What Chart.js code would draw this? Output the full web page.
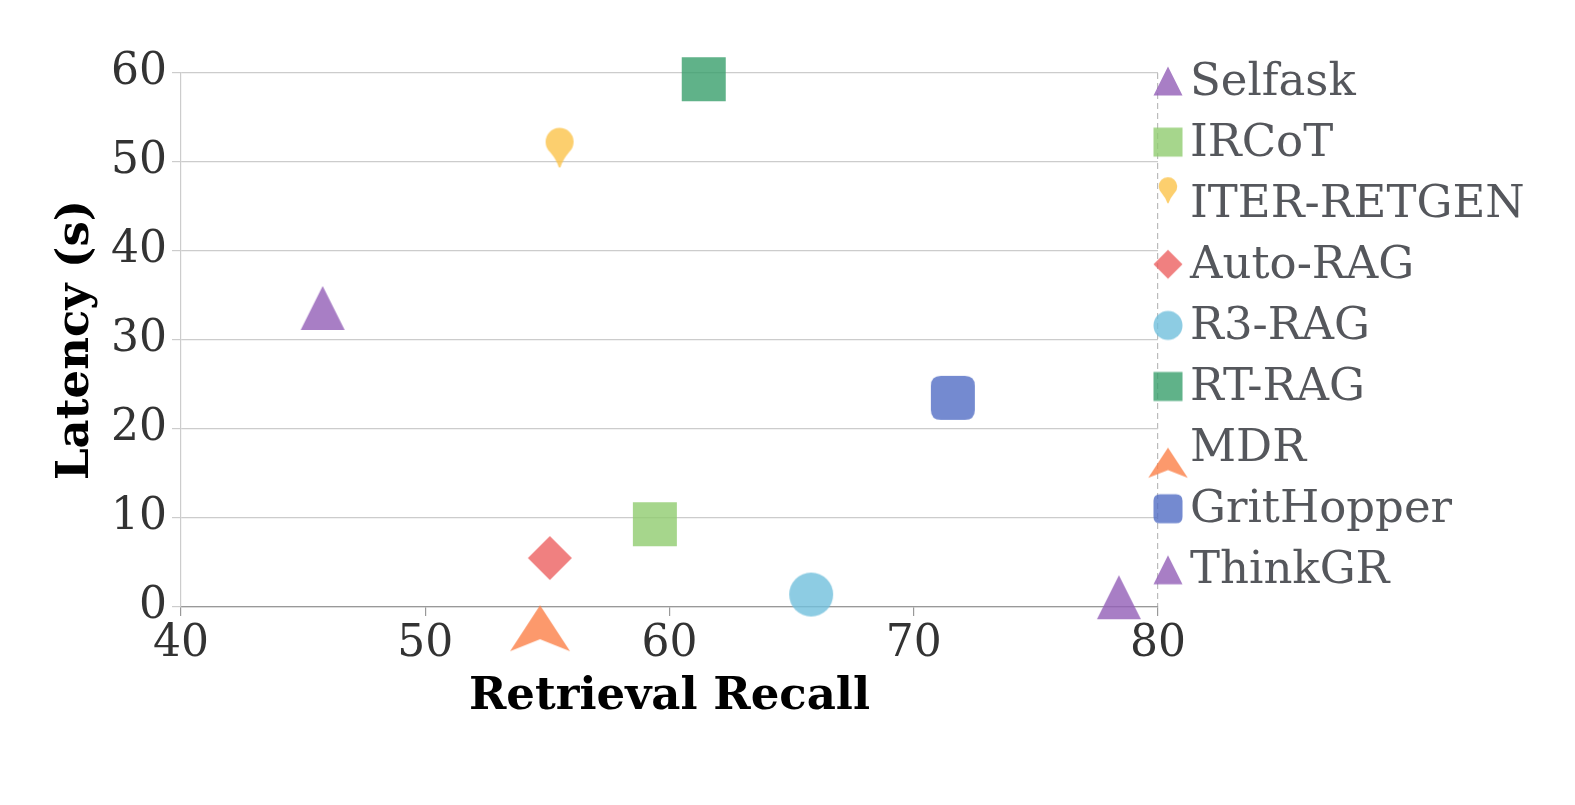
<!DOCTYPE html>
<html><head><meta charset="utf-8">
<script src="https://cdn.jsdelivr.net/npm/chart.js@4.4.1/dist/chart.umd.min.js"></script>
<style>html,body{margin:0;padding:0;background:#fff;}canvas{display:block;}</style>
</head><body>
<canvas id="c" width="1575" height="805"></canvas>
<script>
// ---- data ----
const methods = ['Selfask','IRCoT','ITER-RETGEN','Auto-RAG','R3-RAG','RT-RAG','MDR','GritHopper','ThinkGR'];
const recall  = [45.8, 59.4, 55.5, 55.1, 65.8, 61.4, 54.7, 71.6, 78.4];
const latency = [33.6, 9.3, 49.4, 5.5, 1.4, 59.3, 0.2, 23.5, 1.1];
const xTicks = [40, 50, 60, 70, 80];
const yTicks = [0, 10, 20, 30, 40, 50, 60];

// ---- styles ----
const markerShapes = ['tri','square','pin','diamond','circle','square','arrow','roundsq','tri'];
const markerColors = [
  'rgba(146,94,182,0.8)', 'rgba(144,204,111,0.8)', 'rgba(251,195,74,0.8)',
  'rgba(236,96,96,0.8)', 'rgba(112,191,220,0.8)', 'rgba(56,159,107,0.8)',
  'rgba(251,128,71,0.8)', 'rgba(81,109,196,0.8)', 'rgba(146,94,182,0.8)'
];
const SERIF = "'DejaVu Serif', 'Liberation Serif', serif";

function makeMarker(shape, color, k) {
  const c = document.createElement('canvas');
  let w, h;
  if (shape === 'pin') { w = Math.ceil(32 * k); h = Math.ceil(84 * k); }
  else if (shape === 'arrow') { w = Math.ceil(64 * k); h = Math.ceil(96 * k); }
  else { w = Math.ceil(48 * k); h = Math.ceil(48 * k); }
  if (w % 2) w++; if (h % 2) h++;
  c.width = w; c.height = h;
  const g = c.getContext('2d');
  g.translate(w / 2, h / 2);
  g.scale(k, k);
  g.fillStyle = color;
  g.beginPath();
  const s = 22;
  switch (shape) {
    case 'tri':
      g.moveTo(0, -s); g.lineTo(s, s); g.lineTo(-s, s); g.closePath(); break;
    case 'square':
      g.rect(-s, -s, 2 * s, 2 * s); break;
    case 'roundsq': {
      const r = 10;
      g.moveTo(-s + r, -s); g.lineTo(s - r, -s); g.quadraticCurveTo(s, -s, s, -s + r);
      g.lineTo(s, s - r); g.quadraticCurveTo(s, s, s - r, s);
      g.lineTo(-s + r, s); g.quadraticCurveTo(-s, s, -s, s - r);
      g.lineTo(-s, -s + r); g.quadraticCurveTo(-s, -s, -s + r, -s); g.closePath(); break;
    }
    case 'diamond':
      g.moveTo(0, -s); g.lineTo(s, 0); g.lineTo(0, s); g.lineTo(-s, 0); g.closePath(); break;
    case 'circle':
      g.arc(0, 0, s, 0, Math.PI * 2); break;
    case 'pin': {
      const cy = -25.5, R = 14, a = 0.75;
      g.arc(0, cy, R, Math.PI / 2 + a, Math.PI * 2.5 - a);
      g.quadraticCurveTo(3, cy + R + 4, 0.8, 0);
      g.lineTo(-0.8, 0);
      g.quadraticCurveTo(-3, cy + R + 4, -R * Math.sin(a), cy + R * Math.cos(a));
      g.closePath(); break;
    }
    case 'arrow':
      g.moveTo(0, 0); g.lineTo(30, 46); g.lineTo(0, 34); g.lineTo(-30, 46); g.closePath(); break;
  }
  g.fill();
  return c;
}

const chartMarkers = markerShapes.map((s, i) => makeMarker(s, markerColors[i], 1));
const legendMarkers = markerShapes.map((s, i) => makeMarker(s, markerColors[i], 0.66));

const sideLegend = {
  id: 'sideLegend',
  afterDraw(chart) {
    const ctx = chart.ctx, a = chart.chartArea;
    ctx.save();
    ctx.font = '45px ' + SERIF;
    ctx.fillStyle = '#55575c';
    ctx.textBaseline = 'middle';
    ctx.textAlign = 'left';
    methods.forEach((name, i) => {
      const y = a.top + 8 + i * 61.1;
      const m = legendMarkers[i];
      ctx.drawImage(m, a.right + 10 - m.width / 2, y - m.height / 2);
      ctx.fillText(name, a.right + 32, y + 2);
    });
    ctx.restore();
  }
};

new Chart(document.getElementById('c'), {
  type: 'scatter',
  data: {
    datasets: methods.map((name, i) => ({
      label: name,
      data: [{ x: recall[i], y: latency[i] }],
      pointStyle: chartMarkers[i],
      pointRadius: 22,
      pointHoverRadius: 22,
      backgroundColor: markerColors[i],
      borderColor: markerColors[i],
      clip: false
    }))
  },
  options: {
    responsive: false,
    animation: false,
    events: [],
    devicePixelRatio: 1,
    layout: { padding: { top: 73, right: 417, left: 0, bottom: 0 } },
    plugins: { legend: { display: false }, tooltip: { enabled: false } },
    scales: {
      x: {
        type: 'linear', min: 40, max: 80,
        afterBuildTicks: s => { s.ticks = xTicks.map(v => ({ value: v })); },
        afterFit: s => { s.height = 198; },
        ticks: { font: { family: SERIF, size: 44 }, color: '#333333', padding: 2 },
        grid: {
          color: c => (c.tick && c.tick.value === 80) ? '#bbbbbb' : 'rgba(0,0,0,0)',
          tickColor: '#999999', tickLength: 9, lineWidth: 1.2
        },
        border: { display: true, color: '#999999', width: 1.2, dash: [6, 4] },
        title: { display: true, text: 'Retrieval Recall', color: '#000000',
          font: { family: SERIF, size: 45, weight: 'bold' }, padding: { top: 0, bottom: 81 } }
      },
      y: {
        type: 'linear', min: 0, max: 60,
        afterBuildTicks: s => { s.ticks = yTicks.map(v => ({ value: v })); },
        afterFit: s => { s.width = 181; },
        ticks: { font: { family: SERIF, size: 44 }, color: '#333333', padding: 5 },
        grid: { color: '#cccccc', tickColor: '#cccccc', tickLength: 9, lineWidth: 1.2 },
        border: { display: true, color: '#cccccc', width: 1.2 },
        title: { display: true, text: 'Latency (s)', color: '#000000',
          font: { family: SERIF, size: 45, weight: 'bold' }, padding: { top: 49, bottom: 0 } }
      }
    }
  },
  plugins: [sideLegend]
});
</script>
</body></html>
